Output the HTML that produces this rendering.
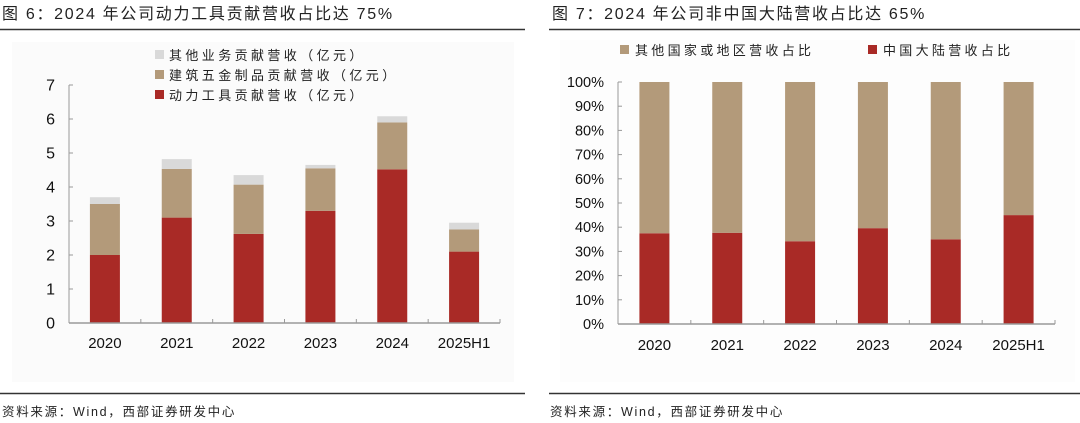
<!DOCTYPE html>
<html><head><meta charset="utf-8">
<style>
html,body{margin:0;padding:0;background:#fff;}
svg{display:block;font-family:"Liberation Sans","Noto Sans CJK SC",sans-serif;}
</style></head>
<body>
<svg id="c" width="1080" height="423" viewBox="0 0 1080 423">
<rect x="12" y="42" width="502" height="340" fill="#fbfbfb"/>
<rect x="560" y="40" width="515" height="342" fill="#fdfdfd"/>
<text x="2" y="19" font-size="16" letter-spacing="1.7" fill="#222">图 6：2024 年公司动力工具贡献营收占比达 75%</text>
<line x1="0" y1="29.5" x2="525" y2="29.5" stroke="#333" stroke-width="1.5"/>
<line x1="0" y1="393.5" x2="525" y2="393.5" stroke="#333" stroke-width="1.5"/>
<text x="2" y="416" font-size="12.5" letter-spacing="1.7" fill="#222">资料来源：Wind，西部证券研发中心</text>
<text x="552" y="19" font-size="16" letter-spacing="1.7" fill="#222">图 7：2024 年公司非中国大陆营收占比达 65%</text>
<line x1="549" y1="29.5" x2="1080" y2="29.5" stroke="#333" stroke-width="1.5"/>
<line x1="549" y1="393.5" x2="1080" y2="393.5" stroke="#333" stroke-width="1.5"/>
<text x="550" y="416" font-size="12.5" letter-spacing="1.7" fill="#222">资料来源：Wind，西部证券研发中心</text>
<g id="L"></g><g id="R"></g>
</svg>
<script>
const categories = ["2020","2021","2022","2023","2024","2025H1"];
const powerTools = [2.0, 3.1, 2.62, 3.3, 4.52, 2.1];
const hardware = [1.5, 1.43, 1.45, 1.25, 1.38, 0.65];
const others = [0.2, 0.29, 0.28, 0.1, 0.18, 0.2];
const leftTicks = [0,1,2,3,4,5,6,7];
const chinaShare = [37.5, 37.7, 34.2, 39.6, 35.0, 45.0];
const rightTicks = [0,10,20,30,40,50,60,70,80,90,100];
const RED="#a92a26", TAN="#b39a7a", GRAY="#d9d9d9";
const NS="http://www.w3.org/2000/svg";
function mk(parent,tag,attrs,text){const e=document.createElementNS(NS,tag);for(const k in attrs)e.setAttribute(k,attrs[k]);if(text!==undefined)e.textContent=text;parent.appendChild(e);return e;}

// left chart
const L=document.getElementById('L');
const lx0=69,lx1=500,ly0=323,ly1=85,lmax=7;
const ly=v=>ly0-(v/lmax)*(ly0-ly1);
const lband=(lx1-lx0)/categories.length;
const lcx=i=>lx0+lband*(i+0.5);
let ax=mk(L,'line',{x1:lx0,y1:ly1,x2:lx0,y2:ly0,stroke:'#999'});


leftTicks.forEach(t=>{
  const tk=mk(L,'line',{x1:lx0,y1:ly(t),x2:lx0+4,y2:ly(t),stroke:'#999'});
  
  
  const tl=mk(L,'text',{x:55,y:ly(t)+5.5,'font-size':16,'text-anchor':'end',fill:'#111'},String(t));
  
  
});
categories.forEach((c,i)=>{
  const w=30,x=lcx(i)-w/2;
  const a=powerTools[i],b=hardware[i],o=others[i];
  const r1=mk(L,'rect',{x:x,y:ly(a),width:w,height:ly(0)-ly(a),fill:RED});
  
  
  const r2=mk(L,'rect',{x:x,y:ly(a+b),width:w,height:ly(a)-ly(a+b),fill:TAN});
  
  
  const r3=mk(L,'rect',{x:x,y:ly(a+b+o),width:w,height:ly(a+b)-ly(a+b+o),fill:GRAY});
  
  
  const xl=mk(L,'text',{x:lcx(i),y:348,'font-size':15,'text-anchor':'middle',fill:'#111'},c);
  
  
});
for(let i=0;i<=categories.length;i++){
  const tk=mk(L,'line',{x1:lx0+lband*i,y1:ly0-4,x2:lx0+lband*i,y2:ly0,stroke:'#999'});
  
  
}
ax=mk(L,'line',{x1:lx0,y1:ly0,x2:lx1,y2:ly0,stroke:'#999','stroke-width':1.5});


[["其他业务贡献营收（亿元）",GRAY],["建筑五金制品贡献营收（亿元）",TAN],["动力工具贡献营收（亿元）",RED]].forEach((l,i)=>{
  const y=56+i*20;
  const s=mk(L,'rect',{x:155,y:y-6,width:9,height:9,fill:l[1]});
  
  
  const t=mk(L,'text',{x:169,y:y+4,'font-size':13,'letter-spacing':3.4,fill:'#222'},l[0]);
  
  
});

// right chart
const R=document.getElementById('R');
const rx0=618,rx1=1055,ry0=324,ry1=82;
const ry=v=>ry0-(v/100)*(ry0-ry1);
const rband=(rx1-rx0)/categories.length;
const rcx=i=>rx0+rband*(i+0.5);
ax=mk(R,'line',{x1:rx0,y1:ry1,x2:rx0,y2:ry0,stroke:'#999'});


rightTicks.forEach(t=>{
  const tk=mk(R,'line',{x1:rx0,y1:ry(t),x2:rx0+4,y2:ry(t),stroke:'#999'});
  
  
  const tl=mk(R,'text',{x:604,y:ry(t)+5,'font-size':14.5,'text-anchor':'end',fill:'#111'},t+'%');
  
  
});
categories.forEach((c,i)=>{
  const w=30,x=rcx(i)-w/2,v=chinaShare[i];
  const r1=mk(R,'rect',{x:x,y:ry(v),width:w,height:ry(0)-ry(v),fill:RED});
  
  
  const r2=mk(R,'rect',{x:x,y:ry(100),width:w,height:ry(v)-ry(100),fill:TAN});
  
  
  const xl=mk(R,'text',{x:rcx(i),y:350,'font-size':15,'text-anchor':'middle',fill:'#111'},c);
  
  
});
for(let i=0;i<=categories.length;i++){
  const tk=mk(R,'line',{x1:rx0+rband*i,y1:ry0-4,x2:rx0+rband*i,y2:ry0,stroke:'#999'});
  
  
}
ax=mk(R,'line',{x1:rx0,y1:ry0,x2:rx1,y2:ry0,stroke:'#999','stroke-width':1.5});


[["其他国家或地区营收占比",TAN,620],["中国大陆营收占比",RED,868]].forEach(l=>{
  const s=mk(R,'rect',{x:l[2],y:45,width:9,height:9,fill:l[1]});
  
  
  const t=mk(R,'text',{x:l[2]+15,y:55,'font-size':13,'letter-spacing':3.3,fill:'#222'},l[0]);
  
  
});
</script>
</body></html>
